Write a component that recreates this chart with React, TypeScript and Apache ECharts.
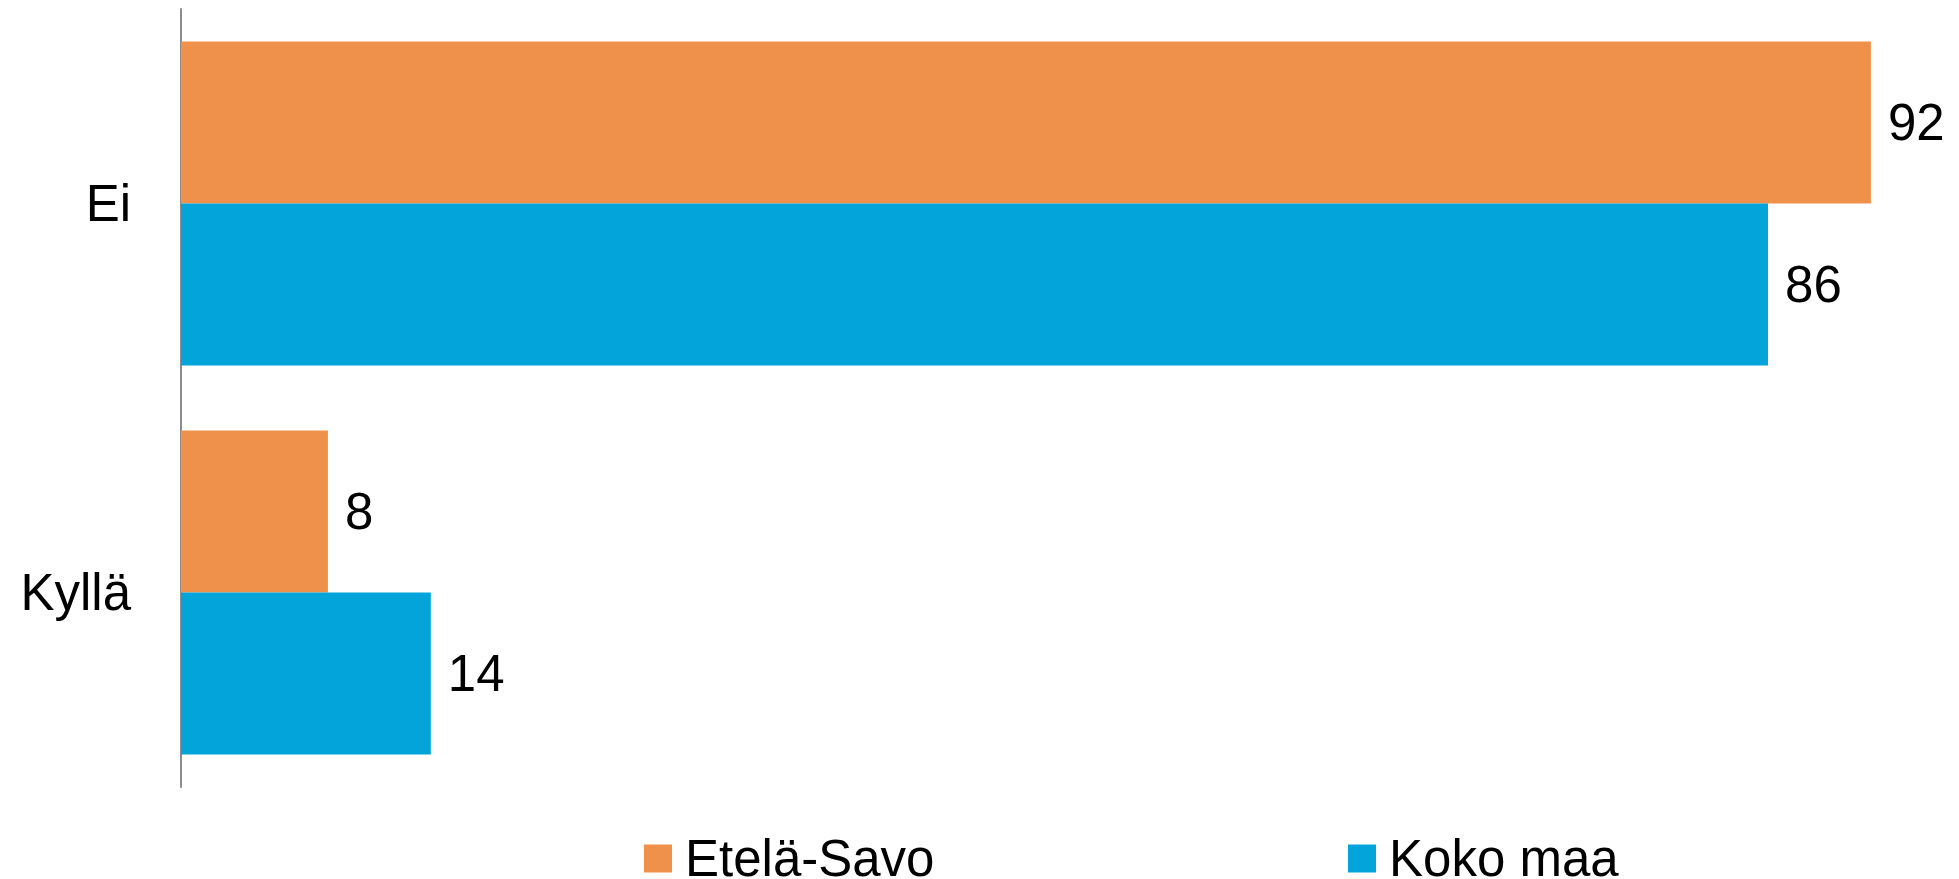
import React, { useEffect, useRef } from "react";
import * as echarts from "echarts";

const categories = ["Ei", "Kyllä"];
const seriesNames = ["Etelä-Savo", "Koko maa"];
const etelaSavo = [92.0, 8.0];
const kokoMaa = [86.4, 13.6];
const colors = ["#F0914B", "#02A4DA"];

const FONT = "'Liberation Sans', Arial, sans-serif";

export default function App() {
  const ref = useRef<HTMLDivElement>(null);
  useEffect(() => {
    if (!ref.current) return;
    const chart = echarts.init(ref.current, null, { renderer: "svg" });
    const labelCfg = {
      show: true,
      position: "right",
      distance: 17,
      fontSize: 51,
      fontFamily: FONT,
      color: "#000",
      formatter: (p: any) => String(Math.round(p.value)),
    };
    const legendBase = {
      top: 833,
      padding: 0,
      itemWidth: 28,
      itemHeight: 28,
      icon: "rect",
      textStyle: {
        fontSize: 51,
        fontFamily: FONT,
        color: "#000",
        padding: [0, 0, 0, 8],
      },
    };
    chart.setOption({
      animation: false,
      textStyle: { fontFamily: FONT },
      grid: { left: 181, right: 33, top: 9, bottom: 92, containLabel: false },
      xAxis: {
        type: "value",
        min: 0,
        max: 95,
        show: false,
      },
      yAxis: {
        type: "category",
        data: categories,
        inverse: true,
        axisLine: { show: true, lineStyle: { color: "#8C8C8C", width: 2 } },
        axisTick: { show: false },
        axisLabel: {
          margin: 50,
          fontSize: 51,
          fontFamily: FONT,
          color: "#000",
        },
      },
      legend: [
        { ...legendBase, data: [seriesNames[0]], left: 644 },
        { ...legendBase, data: [seriesNames[1]], left: 1348 },
      ],
      series: [
        {
          name: seriesNames[0],
          type: "bar",
          data: etelaSavo,
          barWidth: 162,
          barGap: "0%",
          itemStyle: { color: colors[0] },
          label: labelCfg,
        },
        {
          name: seriesNames[1],
          type: "bar",
          data: kokoMaa,
          barWidth: 162,
          barGap: "0%",
          itemStyle: { color: colors[1] },
          label: labelCfg,
        },
      ],
    });
    return () => chart.dispose();
  }, []);
  return (
    <div
      ref={ref}
      style={{ position: "absolute", left: 0, top: 0, width: 1959, height: 879, background: "#fff" }}
    />
  );
}
